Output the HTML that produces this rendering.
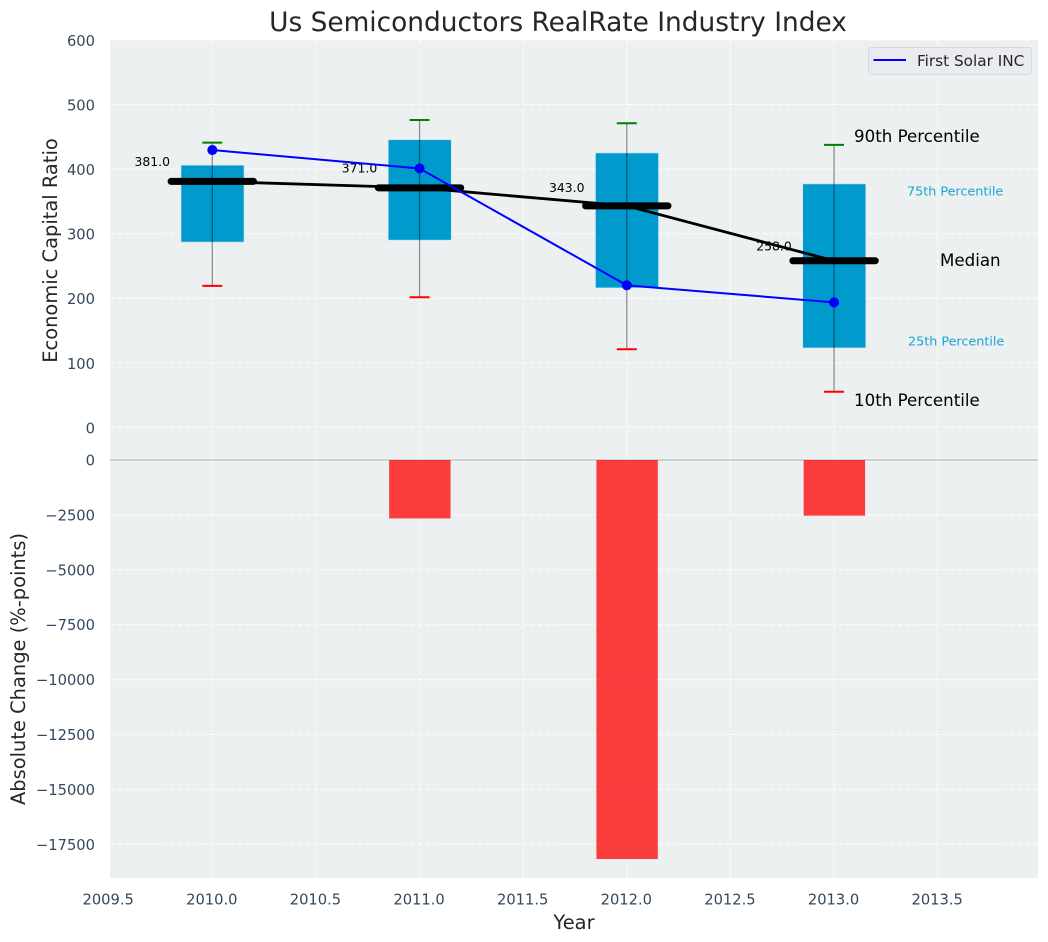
<!DOCTYPE html>
<html lang="en">
<head>
<meta charset="utf-8">
<title>Us Semiconductors RealRate Industry Index</title>
<style>
html,body{margin:0;padding:0;background:#fff;width:1048px;height:942px;overflow:hidden}
svg{display:block;font-family:"DejaVu Sans","Liberation Sans",sans-serif}
</style>
</head>
<body>
<svg id="chart" xmlns="http://www.w3.org/2000/svg" width="1048" height="942" viewBox="0 0 1048 942">
  <rect x="110" y="40" width="928" height="838" fill="#ecf0f1"/>
  <g id="grid"></g>
  <g id="marks"></g>
  <g id="ticks"></g>
  <text x="558" y="31" text-anchor="middle" font-size="26.4" fill="#262626">Us Semiconductors RealRate Industry Index</text>
  <text transform="translate(57,250.5) rotate(-90)" text-anchor="middle" font-size="19.44" fill="#262626">Economic Capital Ratio</text>
  <text transform="translate(25,669) rotate(-90)" text-anchor="middle" font-size="19.44" fill="#262626">Absolute Change (%-points)</text>
  <text x="574" y="929" text-anchor="middle" font-size="19.44" fill="#262626">Year</text>
  <text x="854" y="142" font-size="16.67" fill="#000">90th Percentile</text>
  <text x="907" y="195.5" font-size="12.75" fill="#19a5d2">75th Percentile</text>
  <text x="940" y="266" font-size="16.67" fill="#000">Median</text>
  <text x="908" y="345.5" font-size="12.75" fill="#19a5d2">25th Percentile</text>
  <text x="854" y="406" font-size="16.67" fill="#000">10th Percentile</text>
  <g>
    <rect x="868.5" y="47.5" width="163" height="27" rx="3" fill="#e9ebf1" stroke="#d6d8dc" stroke-width="1"/>
    <line x1="873.5" y1="60" x2="906" y2="60" stroke="#0000ff" stroke-width="2"/>
    <text x="917" y="66" font-size="15.28" fill="#262626">First Solar INC</text>
  </g>
</svg>
<script>
const years = [2010, 2011, 2012, 2013];
const p90 = [441, 476, 471, 437.5];
const p75 = [406, 445.5, 425, 377];
const median = [381, 371, 343, 258];
const p25 = [287, 290, 216, 123];
const p10 = [219, 201.5, 121, 55];
const firstSolar = [429.5, 401, 220, 193.5];
const absoluteChange = [0, -2660, -18170, -2535];
const medianLabels = ['381.0', '371.0', '343.0', '258.0'];
const xTicks = [2009.5, 2010, 2010.5, 2011, 2011.5, 2012, 2012.5, 2013, 2013.5];
const xTickLabels = ['2009.5', '2010.0', '2010.5', '2011.0', '2011.5', '2012.0', '2012.5', '2013.0', '2013.5'];
const topTicks = [0, 100, 200, 300, 400, 500, 600];
const bottomTicks = [0, -2500, -5000, -7500, -10000, -12500, -15000, -17500];

const NS = 'http://www.w3.org/2000/svg';
const x = v => 212.3 + (v - 2010) * 207.25;
const yTop = v => 427.3 - v * 0.6455;
const yBottom = v => 460 + v * -0.02196;
const grid = document.getElementById('grid');
const marks = document.getElementById('marks');
const ticks = document.getElementById('ticks');

function mk(parent, tag, props, text) {
  const el = document.createElementNS(NS, tag);
  for (const k in props) el.setAttribute(k, props[k]);
  if (text !== undefined) el.textContent = text;
  parent.appendChild(el);
  return el;
}
const fmt = n => (n < 0 ? '\u2212' + Math.abs(n) : String(n));
const GRID = {stroke: '#ffffff', 'stroke-width': 1, 'stroke-dasharray': '5 2.5', opacity: 0.9};

xTicks.forEach((t, i) => {
  if (x(t) >= 110) {
    const g = mk(grid, 'line', {x1: x(t), x2: x(t), y1: 40, y2: 878, ...GRID});
    
    
  }
  const l = mk(ticks, 'text', {x: x(t) - 0.5, y: 904.5, 'text-anchor': 'middle', 'font-size': 14.7, fill: '#34495e'}, xTickLabels[i]);
  
  
});
topTicks.forEach(t => {
  const g = mk(grid, 'line', {x1: 110, x2: 1038, y1: yTop(t), y2: yTop(t), ...GRID});
  
  
  const l = mk(ticks, 'text', {x: 95, y: yTop(t) + 6, 'text-anchor': 'end', 'font-size': 14.7, fill: '#34495e'}, fmt(t));
  
  
});
bottomTicks.forEach(t => {
  const g = mk(grid, 'line', {x1: 110, x2: 1038, y1: yBottom(t), y2: yBottom(t), ...GRID});
  
  
  const l = mk(ticks, 'text', {x: 95, y: yBottom(t) + 5.5, 'text-anchor': 'end', 'font-size': 14.7, fill: '#34495e'}, fmt(t));
  
  
});

const halo = mk(marks, 'line', {x1: 110, x2: 1038, y1: yBottom(0), y2: yBottom(0), stroke: '#ffffff', 'stroke-width': 3, opacity: 0.6});


const zero = mk(marks, 'line', {x1: 110, x2: 1038, y1: yBottom(0), y2: yBottom(0), stroke: '#b4b4b4', 'stroke-width': 1.2});



years.forEach((yr, i) => {
  if (absoluteChange[i] !== 0) {
    const bar = mk(marks, 'rect', {
      x: x(yr) - 30.4, width: 61.4,
      y: yBottom(0), height: yBottom(absoluteChange[i]) - yBottom(0),
      fill: '#ff0000', 'fill-opacity': 0.75
    });
    
    
  }
  const box = mk(marks, 'rect', {
    x: x(yr) - 31.3, width: 63,
    y: yTop(p75[i]), height: yTop(p25[i]) - yTop(p75[i]),
    fill: '#009acd', stroke: '#bfe3ee', 'stroke-width': 0.6
  });
  
  
  const whisker = mk(marks, 'line', {
    x1: x(yr), x2: x(yr), y1: yTop(p90[i]), y2: yTop(p10[i]),
    stroke: '#000000', 'stroke-opacity': 0.45, 'stroke-width': 1.2
  });
  
  
  const capHi = mk(marks, 'line', {x1: x(yr) - 10, x2: x(yr) + 10, y1: yTop(p90[i]), y2: yTop(p90[i]), stroke: '#008000', 'stroke-width': 2});
  
  
  const capLo = mk(marks, 'line', {x1: x(yr) - 10, x2: x(yr) + 10, y1: yTop(p10[i]), y2: yTop(p10[i]), stroke: '#ff0000', 'stroke-width': 2});
  
  
});

const medianLine = mk(marks, 'polyline', {
  points: years.map((yr, i) => x(yr) + ',' + yTop(median[i])).join(' '),
  fill: 'none', stroke: '#000000', 'stroke-width': 2.8
});



years.forEach((yr, i) => {
  const bar = mk(marks, 'line', {
    x1: x(yr) - 41.2, x2: x(yr) + 41.2, y1: yTop(median[i]), y2: yTop(median[i]),
    stroke: '#000000', 'stroke-width': 7, 'stroke-linecap': 'round'
  });
  
  
  const lab = mk(marks, 'text', {
    x: x(yr) - 77.8, y: yTop(median[i] * 1.063), 'font-size': 12.4, fill: '#000000'
  }, medianLabels[i]);
  
  
});

const solarLine = mk(marks, 'polyline', {
  points: years.map((yr, i) => x(yr) + ',' + yTop(firstSolar[i])).join(' '),
  fill: 'none', stroke: '#0000ff', 'stroke-width': 2
});



years.forEach((yr, i) => {
  const pt = mk(marks, 'circle', {cx: x(yr), cy: yTop(firstSolar[i]), r: 5, fill: '#0000ff'});
  
  
});
</script>
</body>
</html>
